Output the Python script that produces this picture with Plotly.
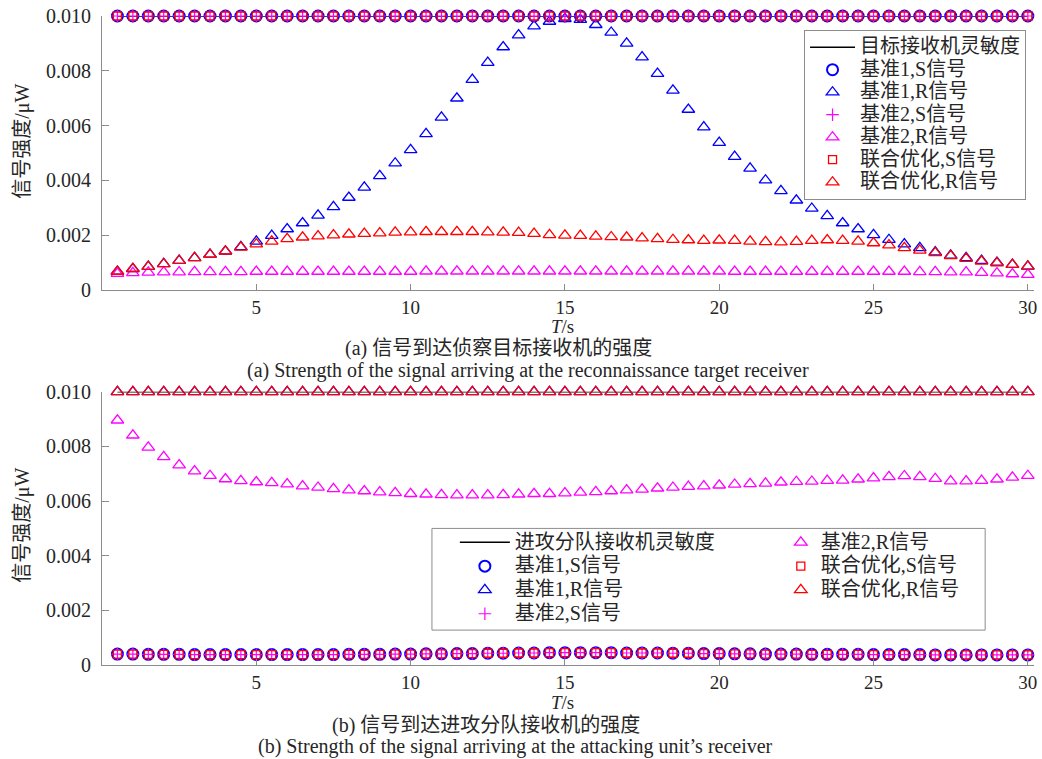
import plotly.graph_objects as go

# ---------------- data ----------------
T = [0.5, 1.0, 1.5, 2.0, 2.5, 3.0, 3.5, 4.0, 4.5, 5.0,
     5.5, 6.0, 6.5, 7.0, 7.5, 8.0, 8.5, 9.0, 9.5, 10.0,
     10.5, 11.0, 11.5, 12.0, 12.5, 13.0, 13.5, 14.0, 14.5, 15.0,
     15.5, 16.0, 16.5, 17.0, 17.5, 18.0, 18.5, 19.0, 19.5, 20.0,
     20.5, 21.0, 21.5, 22.0, 22.5, 23.0, 23.5, 24.0, 24.5, 25.0,
     25.5, 26.0, 26.5, 27.0, 27.5, 28.0, 28.5, 29.0, 29.5, 30.0]

SENS_TARGET = 0.01      # 目标接收机灵敏度
SENS_ATTACK = 0.01      # 进攻分队接收机灵敏度
S_AT_TARGET = 0.01      # S signals at target receiver (all schemes)
R_AT_ATTACK = 0.01      # 基准1 / 联合优化 R signals at attacking unit

# (a) target receiver, R signals
a_b1_R = [0.00068, 0.00078, 0.00086, 0.00096, 0.00108, 0.00118, 0.00130, 0.00142, 0.00158, 0.00178,
          0.00199, 0.00223, 0.00245, 0.00273, 0.00304, 0.00338, 0.00375, 0.00417, 0.00463, 0.00512,
          0.00570, 0.00630, 0.00700, 0.00768, 0.00830, 0.00887, 0.00930, 0.00963, 0.00980, 0.00990,
          0.00987, 0.00968, 0.00940, 0.00900, 0.00850, 0.00790, 0.00729, 0.00659, 0.00595, 0.00538,
          0.00487, 0.00444, 0.00401, 0.00362, 0.00328, 0.00298, 0.00271, 0.00245, 0.00223, 0.00202,
          0.00184, 0.00168, 0.00154, 0.00139, 0.00127, 0.00118, 0.00108, 0.00101, 0.00093, 0.00087]
a_b2_R = [0.00060, 0.00063, 0.00065, 0.00066, 0.00066, 0.00067, 0.00067, 0.00067, 0.00067, 0.00068,
          0.00068, 0.00068, 0.00068, 0.00068, 0.00068, 0.00068, 0.00068, 0.00068, 0.00068, 0.00068,
          0.00069, 0.00069, 0.00069, 0.00069, 0.00069, 0.00069, 0.00069, 0.00069, 0.00069, 0.00069,
          0.00069, 0.00069, 0.00069, 0.00069, 0.00069, 0.00069, 0.00069, 0.00069, 0.00069, 0.00069,
          0.00068, 0.00068, 0.00068, 0.00068, 0.00068, 0.00068, 0.00068, 0.00068, 0.00068, 0.00068,
          0.00068, 0.00068, 0.00067, 0.00067, 0.00066, 0.00066, 0.00064, 0.00062, 0.00059, 0.00057]
a_j_R = [0.00068, 0.00078, 0.00086, 0.00096, 0.00108, 0.00118, 0.00130, 0.00142, 0.00156, 0.00168,
         0.00178, 0.00187, 0.00193, 0.00197, 0.00201, 0.00204, 0.00206, 0.00208, 0.00211, 0.00212,
         0.00213, 0.00213, 0.00213, 0.00213, 0.00212, 0.00211, 0.00210, 0.00206, 0.00202, 0.00200,
         0.00199, 0.00196, 0.00194, 0.00193, 0.00190, 0.00187, 0.00184, 0.00183, 0.00181, 0.00182,
         0.00181, 0.00178, 0.00176, 0.00175, 0.00177, 0.00181, 0.00183, 0.00181, 0.00178, 0.00172,
         0.00164, 0.00154, 0.00145, 0.00136, 0.00125, 0.00115, 0.00105, 0.00099, 0.00093, 0.00087]

# (b) attacking unit receiver
b_S = [0.00040, 0.00040, 0.00039, 0.00039, 0.00039, 0.00038, 0.00038, 0.00038, 0.00038, 0.00038,
       0.00038, 0.00038, 0.00038, 0.00038, 0.00038, 0.00039, 0.00039, 0.00039, 0.00040, 0.00040,
       0.00041, 0.00041, 0.00042, 0.00042, 0.00043, 0.00043, 0.00044, 0.00044, 0.00045, 0.00045,
       0.00045, 0.00045, 0.00045, 0.00044, 0.00044, 0.00044, 0.00043, 0.00043, 0.00042, 0.00042,
       0.00041, 0.00041, 0.00040, 0.00040, 0.00040, 0.00039, 0.00039, 0.00039, 0.00039, 0.00038,
       0.00038, 0.00038, 0.00038, 0.00037, 0.00037, 0.00037, 0.00037, 0.00037, 0.00037, 0.00037]
b_b2_R = [0.00896, 0.00841, 0.00797, 0.00762, 0.00732, 0.00710, 0.00693, 0.00681, 0.00674, 0.00670,
          0.00667, 0.00662, 0.00655, 0.00650, 0.00645, 0.00640, 0.00637, 0.00633, 0.00630, 0.00627,
          0.00625, 0.00623, 0.00622, 0.00622, 0.00622, 0.00623, 0.00625, 0.00627, 0.00627, 0.00629,
          0.00632, 0.00634, 0.00637, 0.00640, 0.00643, 0.00647, 0.00650, 0.00653, 0.00655, 0.00658,
          0.00661, 0.00663, 0.00665, 0.00669, 0.00671, 0.00672, 0.00675, 0.00676, 0.00680, 0.00684,
          0.00689, 0.00692, 0.00689, 0.00682, 0.00673, 0.00673, 0.00675, 0.00680, 0.00687, 0.00693]

NAMES = ["基准1,S信号", "基准1,R信号", "基准2,S信号", "基准2,R信号", "联合优化,S信号", "联合优化,R信号"]
LINE_NAME_A = "目标接收机灵敏度"
LINE_NAME_B = "进攻分队接收机灵敏度"
Y_TICKS = [0, 0.002, 0.004, 0.006, 0.008, 0.010]
Y_TICKTEXT = ["0", "0.002", "0.004", "0.006", "0.008", "0.010"]
X_TICKS = [5, 10, 15, 20, 25, 30]

# ---------------- styling ----------------
FONT = "Liberation Serif, Times New Roman, Noto Sans CJK SC, serif"
TXT = "#262626"
GRID = "#8c8c8c"
BLUE, MAG, RED = "#0000FF", "#FF00FF", "#FF0000"

W, H = 1042, 759
L, R_, TOP, BOT = 102, 5, 14, 94
PW, PH = W - L - R_, H - TOP - BOT


def px(xp):
    return (xp - L) / PW


def py(yp):
    return (H - BOT - yp) / PH


def big(s, size=20):
    return '<span style="font-size:%dpx">%s</span>' % (size, s)


STYLES = [
    dict(symbol="circle-open", size=11, color=BLUE, line=dict(width=2, color=BLUE)),
    dict(symbol="triangle-up-open", size=11, color=BLUE, line=dict(width=1.3, color=BLUE)),
    dict(symbol="cross-thin-open", size=9, color=MAG, line=dict(width=1.2, color=MAG)),
    dict(symbol="triangle-up-open", size=11, color=MAG, line=dict(width=1.3, color=MAG)),
    dict(symbol="square-open", size=8, color=RED, line=dict(width=1.3, color=RED)),
    dict(symbol="triangle-up-open", size=11, color=RED, line=dict(width=1.3, color=RED)),
]

fig = go.Figure()

# ---- subplot (a) ----
series_a = [[S_AT_TARGET] * len(T), a_b1_R, [S_AT_TARGET] * len(T), a_b2_R, [S_AT_TARGET] * len(T), a_j_R]
fig.add_trace(go.Scatter(x=T, y=[SENS_TARGET] * len(T), mode="lines", name=big(LINE_NAME_A),
                         line=dict(color="black", width=1.5), xaxis="x", yaxis="y",
                         legend="legend", cliponaxis=False))
for name, ys, st in zip(NAMES, series_a, STYLES):
    fig.add_trace(go.Scatter(x=T, y=ys, mode="markers", name=big(name), marker=st,
                             xaxis="x", yaxis="y", legend="legend", cliponaxis=False))

# ---- subplot (b) ----
series_b = [b_S, [R_AT_ATTACK] * len(T), b_S, b_b2_R, b_S, [R_AT_ATTACK] * len(T)]
legend_for_b = ["legend2", "legend2", "legend2", "legend3", "legend3", "legend3"]
fig.add_trace(go.Scatter(x=T, y=[SENS_ATTACK] * len(T), mode="lines", name=big(LINE_NAME_B),
                         line=dict(color="black", width=1.5), xaxis="x2", yaxis="y2",
                         legend="legend2", cliponaxis=False))
for name, ys, st, lg in zip(NAMES, series_b, STYLES, legend_for_b):
    fig.add_trace(go.Scatter(x=T, y=ys, mode="markers", name=big(name), marker=st,
                             xaxis="x2", yaxis="y2", legend=lg, cliponaxis=False))

# ---------------- axes ----------------
dom_a = [py(289), 1.0]
dom_b = [0.0, py(391)]
common_x = dict(range=[0, 30.2], tickvals=X_TICKS, ticks="inside", ticklen=6, tickcolor=GRID,
                showline=True, linecolor=GRID, linewidth=1, showgrid=False, zeroline=False,
                tickfont=dict(family=FONT, size=19, color=TXT), ticklabelstandoff=0)
common_y = dict(range=[0, 0.01], tickvals=Y_TICKS, ticktext=Y_TICKTEXT, ticks="inside", ticklen=7,
                tickcolor=GRID, showline=True, linecolor=GRID, linewidth=1, showgrid=False,
                zeroline=False, tickfont=dict(family=FONT, size=20, color=TXT), ticklabelstandoff=6)

fig.update_layout(
    width=W, height=H,
    margin=dict(l=L, r=R_, t=TOP, b=BOT, pad=0),
    paper_bgcolor="white", plot_bgcolor="white",
    font=dict(family=FONT, color=TXT),
    xaxis=dict(domain=[0, 1], anchor="y", **common_x),
    yaxis=dict(domain=dom_a, anchor="x", **common_y),
    xaxis2=dict(domain=[0, 1], anchor="y2", **common_x),
    yaxis2=dict(domain=dom_b, anchor="x2", **common_y),
    legend=dict(x=px(1029), y=py(28), xanchor="right", yanchor="top",
                bgcolor="white", bordercolor=GRID, borderwidth=1, itemwidth=45,
                font=dict(family=FONT, size=15, color=TXT), orientation="v"),
    legend2=dict(x=px(456), y=py(525), xanchor="left", yanchor="top",
                 bgcolor="rgba(0,0,0,0)", borderwidth=0, itemwidth=50,
                 font=dict(family=FONT, size=16, color=TXT), orientation="v"),
    legend3=dict(x=px(783), y=py(525), xanchor="left", yanchor="top",
                 bgcolor="rgba(0,0,0,0)", borderwidth=0, itemwidth=30,
                 font=dict(family=FONT, size=16, color=TXT), orientation="v"),
    showlegend=True,
)

# frame of the bottom legend (two columns)
fig.add_shape(type="rect", xref="paper", yref="paper",
              x0=px(433), x1=px(988), y0=py(630), y1=py(528),
              line=dict(color=GRID, width=1), fillcolor="white", layer="below")

# ---------------- texts ----------------
ann = []


def add_text(text, xp, yp, size=18, angle=0):
    ann.append(dict(text=text, x=px(xp), y=py(yp), xref="paper", yref="paper",
                    xanchor="center", yanchor="middle", showarrow=False, textangle=angle,
                    font=dict(family=FONT, size=size, color=TXT)))


add_text("信号强度/μW", 22, 140, size=20, angle=-90)
add_text("信号强度/μW", 22, 525, size=20, angle=-90)
add_text("<i>T</i>/s", 564, 325, size=19)
add_text("<i>T</i>/s", 564, 703, size=19)
add_text("(a) 信号到达侦察目标接收机的强度", 500, 348, size=20)
add_text("(a) Strength of the signal arriving at the reconnaissance target receiver", 529, 370, size=20)
add_text("(b) 信号到达进攻分队接收机的强度", 487, 726, size=20)
add_text("(b) Strength of the signal arriving at the attacking unit’s receiver", 517, 747, size=20)
fig.update_layout(annotations=ann)

fig.write_html("out.html")
